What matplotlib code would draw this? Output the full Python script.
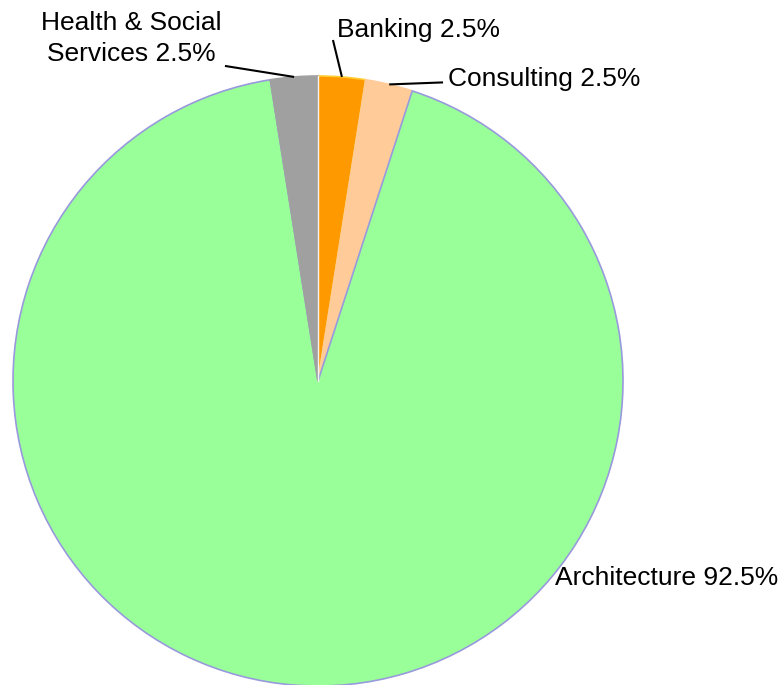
import matplotlib.pyplot as plt
import numpy as np

plt.rcParams['font.family'] = ['Liberation Sans', 'DejaVu Sans']

sectors = ["Banking", "Consulting", "Architecture", "Health & Social\nServices"]
shares = [2.5, 2.5, 92.5, 2.5]
colors = ["#ff9900", "#ffcc99", "#99ff99", "#a0a0a0"]
edges = ["#ffcc33", "#ffcc99", "#9999dd", "#a0a0a0"]


def main():
    fig = plt.figure(figsize=(7.82, 6.85), dpi=100)
    ax = fig.add_axes([13 / 782, -1 / 685, 610 / 782, 610 / 685])

    wedges, _ = ax.pie(shares, colors=colors, startangle=90, counterclock=False,
                       radius=1.0, wedgeprops=dict(linewidth=1.2))
    for w, ec in zip(wedges, edges):
        w.set_edgecolor(ec)
    # thin light divider at 12 o'clock
    ax.plot([0, 0], [0, 1], color="#f4f4f4", lw=1.0, zorder=3)

    # label placement (text position, alignment, leader line or not)
    spots = [
        ((0.062, 1.151), "left", True, (0.049, 1.118)),
        ((0.425, 0.99), "left", True, (0.41, 0.979)),
        ((0.777, -0.646), "left", False, None),
        ((-0.612, 1.124), "center", True, (-0.305, 1.033)),
    ]
    for w, name, val, (pos, ha, leader, lstart) in zip(wedges, sectors, shares, spots):
        ax.text(pos[0], pos[1], f"{name} {val}%", ha=ha, va="center",
                fontsize=19, color="black", linespacing=1.35)
        if leader:
            ang = np.deg2rad((w.theta1 + w.theta2) / 2)
            ax.plot([lstart[0], np.cos(ang)], [lstart[1], np.sin(ang)],
                    color="black", lw=1.5, solid_capstyle="butt",
                    clip_on=False, zorder=4)

    ax.set_xlim(-1.0, 1.0)
    ax.set_ylim(-1.0, 1.0)
    ax.set_aspect("equal")
    ax.axis("off")

    fig.savefig("out.png", dpi=100)


if __name__ == "__main__":
    main()
